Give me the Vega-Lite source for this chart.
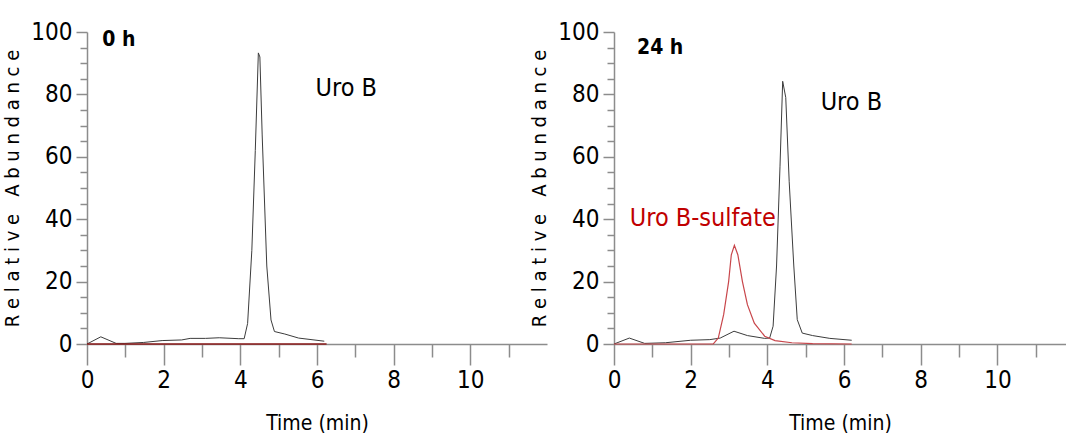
{
  "$schema": "https://vega.github.io/schema/vega-lite/v6.json",
  "padding": {"left": 2, "top": 20, "right": 0, "bottom": 0},
  "spacing": -18,
  "datasets": {
    "h0": [
      {"t": 0, "a": 0, "trace": "uroB"},
      {"t": 0.36, "a": 2.3, "trace": "uroB"},
      {"t": 0.76, "a": 0.2, "trace": "uroB"},
      {"t": 0.99, "a": 0.2, "trace": "uroB"},
      {"t": 1.48, "a": 0.5, "trace": "uroB"},
      {"t": 1.96, "a": 1.1, "trace": "uroB"},
      {"t": 2.47, "a": 1.3, "trace": "uroB"},
      {"t": 2.69, "a": 1.8, "trace": "uroB"},
      {"t": 3.09, "a": 1.8, "trace": "uroB"},
      {"t": 3.45, "a": 2.0, "trace": "uroB"},
      {"t": 3.96, "a": 1.7, "trace": "uroB"},
      {"t": 4.1, "a": 1.7, "trace": "uroB"},
      {"t": 4.19, "a": 6.6, "trace": "uroB"},
      {"t": 4.3, "a": 30, "trace": "uroB"},
      {"t": 4.39, "a": 62, "trace": "uroB"},
      {"t": 4.47, "a": 93.3, "trace": "uroB"},
      {"t": 4.51, "a": 92, "trace": "uroB"},
      {"t": 4.57, "a": 67, "trace": "uroB"},
      {"t": 4.69, "a": 25, "trace": "uroB"},
      {"t": 4.8, "a": 7.7, "trace": "uroB"},
      {"t": 4.89, "a": 4, "trace": "uroB"},
      {"t": 5.16, "a": 3.2, "trace": "uroB"},
      {"t": 5.52, "a": 1.9, "trace": "uroB"},
      {"t": 6.19, "a": 0.9, "trace": "uroB"},
      {"t": 0, "a": 0, "trace": "sulfate"},
      {"t": 6.25, "a": 0, "trace": "sulfate"}
    ],
    "h24": [
      {"t": 0, "a": 0, "trace": "uroB"},
      {"t": 0.4, "a": 1.9, "trace": "uroB"},
      {"t": 0.8, "a": 0.2, "trace": "uroB"},
      {"t": 1.34, "a": 0.4, "trace": "uroB"},
      {"t": 2, "a": 1.2, "trace": "uroB"},
      {"t": 2.5, "a": 1.4, "trace": "uroB"},
      {"t": 2.77, "a": 1.9, "trace": "uroB"},
      {"t": 3.13, "a": 4.1, "trace": "uroB"},
      {"t": 3.48, "a": 2.7, "trace": "uroB"},
      {"t": 3.93, "a": 1.8, "trace": "uroB"},
      {"t": 4.06, "a": 1.9, "trace": "uroB"},
      {"t": 4.15, "a": 5.7, "trace": "uroB"},
      {"t": 4.24, "a": 25, "trace": "uroB"},
      {"t": 4.33, "a": 57, "trace": "uroB"},
      {"t": 4.4, "a": 84.2, "trace": "uroB"},
      {"t": 4.48, "a": 79, "trace": "uroB"},
      {"t": 4.57, "a": 52, "trace": "uroB"},
      {"t": 4.69, "a": 25, "trace": "uroB"},
      {"t": 4.78, "a": 7.8, "trace": "uroB"},
      {"t": 4.91, "a": 3.5, "trace": "uroB"},
      {"t": 5.18, "a": 2.7, "trace": "uroB"},
      {"t": 5.63, "a": 1.8, "trace": "uroB"},
      {"t": 6.2, "a": 1.2, "trace": "uroB"},
      {"t": 0, "a": 0, "trace": "sulfate"},
      {"t": 2.59, "a": 0, "trace": "sulfate"},
      {"t": 2.72, "a": 1.9, "trace": "sulfate"},
      {"t": 2.86, "a": 9.4, "trace": "sulfate"},
      {"t": 2.99, "a": 20, "trace": "sulfate"},
      {"t": 3.06, "a": 28.6, "trace": "sulfate"},
      {"t": 3.14, "a": 31.6, "trace": "sulfate"},
      {"t": 3.23, "a": 28.6, "trace": "sulfate"},
      {"t": 3.35, "a": 20, "trace": "sulfate"},
      {"t": 3.48, "a": 12.6, "trace": "sulfate"},
      {"t": 3.66, "a": 6.7, "trace": "sulfate"},
      {"t": 3.93, "a": 2.5, "trace": "sulfate"},
      {"t": 4.2, "a": 1.1, "trace": "sulfate"},
      {"t": 4.64, "a": 0.4, "trace": "sulfate"},
      {"t": 5.18, "a": 0.1, "trace": "sulfate"},
      {"t": 6.2, "a": 0, "trace": "sulfate"}
    ],
    "lab0": [
      {"t": 0.4, "a": 95.5, "label": "0 h", "kind": "head"},
      {"t": 5.96, "a": 79.5, "label": "Uro B", "kind": "uroB"}
    ],
    "lab24": [
      {"t": 0.6, "a": 93, "label": "24 h", "kind": "head"},
      {"t": 5.39, "a": 74.9, "label": "Uro B", "kind": "uroB"},
      {"t": 0.41, "a": 37.9, "label": "Uro B-sulfate", "kind": "sulfate"}
    ]
  },
  "config": {
    "view": {"stroke": null},
    "font": "DejaVu Sans Condensed, Liberation Sans, sans-serif",
    "axis": {
      "grid": false,
      "domainColor": "#8c8c8c",
      "domainWidth": 1.5,
      "tickColor": "#8c8c8c",
      "tickWidth": 1.5,
      "labelColor": "#000000",
      "labelFont": "DejaVu Sans Condensed, Liberation Sans, sans-serif",
      "labelFontSize": 24,
      "titleFont": "DejaVu Sans Condensed, Liberation Sans, sans-serif",
      "titleFontWeight": "normal",
      "titleColor": "#000000"
    }
  },
  "hconcat": [
    {
      "width": 460,
      "height": 312,
      "encoding": {
        "x": {
          "field": "t", "type": "quantitative",
          "scale": {"domain": [0, 12], "nice": false, "zero": false},
          "axis": {
            "values": [0,0.5,1,1.5,2,2.5,3,3.5,4,4.5,5,5.5,6,6.5,7,7.5,8,8.5,9,9.5,10,10.5,11,11.5],
            "format": "d",
            "labelExpr": "datum.value % 2 === 0 ? datum.label : ''",
            "tickSize": {"condition": {"test": "datum.value % 2 === 0", "value": 21}, "value": 13},
            "labelPadding": 3,
            "labelFlush": false,
            "title": "Time (min)",
            "titleFontSize": 21,
            "titlePadding": 20
          }
        },
        "y": {
          "field": "a", "type": "quantitative",
          "scale": {"domain": [0, 100], "nice": false},
          "axis": {
            "values": [0,5,10,15,20,25,30,35,40,45,50,55,60,65,70,75,80,85,90,95,100],
            "labelExpr": "datum.value % 20 === 0 ? datum.label : ''",
            "tickSize": {"condition": {"test": "datum.value % 20 === 0", "value": 11}, "value": 7},
            "labelPadding": 4,
            "labelFlush": false,
            "title": "R e l a t i v e \u00a0 A b u n d a n c e",
            "titleFontSize": 20,
            "titlePadding": 8
          }
        }
      },
      "layer": [
        {"data": {"name": "h0"}, "transform": [{"filter": "datum.trace === 'uroB'"}], "mark": {"type": "line", "color": "#3c3c3c", "strokeWidth": 1}},
        {"data": {"name": "h0"}, "transform": [{"filter": "datum.trace === 'sulfate'"}], "mark": {"type": "line", "color": "#8b1a1a", "strokeWidth": 1.5}},
        {"data": {"name": "lab0"}, "transform": [{"filter": "datum.kind === 'head'"}], "mark": {"type": "text", "align": "left", "baseline": "alphabetic", "fontSize": 21, "fontWeight": "bold", "color": "#000000"}, "encoding": {"text": {"field": "label"}}},
        {"data": {"name": "lab0"}, "transform": [{"filter": "datum.kind === 'uroB'"}], "mark": {"type": "text", "align": "left", "baseline": "alphabetic", "fontSize": 25, "color": "#000000"}, "encoding": {"text": {"field": "label"}}}
      ]
    },
    {
      "width": 452,
      "height": 312,
      "encoding": {
        "x": {
          "field": "t", "type": "quantitative",
          "scale": {"domain": [0, 11.79], "nice": false, "zero": false},
          "axis": {
            "values": [0,0.5,1,1.5,2,2.5,3,3.5,4,4.5,5,5.5,6,6.5,7,7.5,8,8.5,9,9.5,10,10.5,11,11.5],
            "format": "d",
            "labelExpr": "datum.value % 2 === 0 ? datum.label : ''",
            "tickSize": {"condition": {"test": "datum.value % 2 === 0", "value": 21}, "value": 13},
            "labelPadding": 3,
            "labelFlush": false,
            "title": "Time (min)",
            "titleFontSize": 21,
            "titlePadding": 20
          }
        },
        "y": {
          "field": "a", "type": "quantitative",
          "scale": {"domain": [0, 100], "nice": false},
          "axis": {
            "values": [0,5,10,15,20,25,30,35,40,45,50,55,60,65,70,75,80,85,90,95,100],
            "labelExpr": "datum.value % 20 === 0 ? datum.label : ''",
            "tickSize": {"condition": {"test": "datum.value % 20 === 0", "value": 11}, "value": 7},
            "labelPadding": 4,
            "labelFlush": false,
            "title": "R e l a t i v e \u00a0 A b u n d a n c e",
            "titleFontSize": 20,
            "titlePadding": 8
          }
        }
      },
      "layer": [
        {"data": {"name": "h24"}, "transform": [{"filter": "datum.trace === 'uroB'"}], "mark": {"type": "line", "color": "#3c3c3c", "strokeWidth": 1}},
        {"data": {"name": "h24"}, "transform": [{"filter": "datum.trace === 'sulfate'"}], "mark": {"type": "line", "color": "#c8464b", "strokeWidth": 1.2}},
        {"data": {"name": "lab24"}, "transform": [{"filter": "datum.kind === 'head'"}], "mark": {"type": "text", "align": "left", "baseline": "alphabetic", "fontSize": 21, "fontWeight": "bold", "color": "#000000"}, "encoding": {"text": {"field": "label"}}},
        {"data": {"name": "lab24"}, "transform": [{"filter": "datum.kind === 'uroB'"}], "mark": {"type": "text", "align": "left", "baseline": "alphabetic", "fontSize": 25, "color": "#000000"}, "encoding": {"text": {"field": "label"}}},
        {"data": {"name": "lab24"}, "transform": [{"filter": "datum.kind === 'sulfate'"}], "mark": {"type": "text", "align": "left", "baseline": "alphabetic", "fontSize": 25, "color": "#c00000"}, "encoding": {"text": {"field": "label"}}}
      ]
    }
  ]
}
